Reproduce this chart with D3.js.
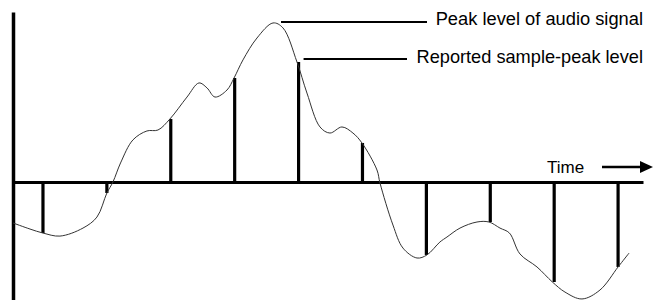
<!DOCTYPE html>
<html>
<head>
<meta charset="utf-8">
<script src="https://cdn.jsdelivr.net/npm/d3@7"></script>
<style>
  html, body { margin: 0; padding: 0; background: #fff; }
  svg { display: block; }
</style>
</head>
<body>
<svg id="chart" width="654" height="300"></svg>
<script>
// ---- Data (time in sample periods, level in relative amplitude) ----
const sampleTime  = [0, 1, 2, 3, 4, 5, 6, 7, 8, 9];
const sampleLevel = [-0.319, -0.069, 0.394, 0.65, 0.75, 0.244, -0.456, -0.25, -0.625, -0.531];

// continuous analog signal
const signalTime  = [-0.469, -0.203, 0, 0.266, 0.626, 0.845, 1.0, 1.095, 1.214, 1.408, 1.627, 1.800, 1.987,
                     2.254, 2.441, 2.567, 2.692, 2.880, 2.990, 3.130, 3.349, 3.600, 3.756, 3.975, 4.131, 4.335,
                     4.491, 4.679, 4.851, 4.992, 5.227, 5.274, 5.477, 5.634, 5.853, 6.009, 6.212, 6.322, 6.526,
                     6.792, 6.979, 7.152, 7.300, 7.465, 7.731, 7.972, 8.169, 8.435, 8.717, 9.0, 9.172];
const signalLevel = [-0.256, -0.294, -0.319, -0.338, -0.288, -0.219, -0.069, 0.0, 0.119, 0.263, 0.319, 0.325, 0.394,
                     0.531, 0.619, 0.588, 0.531, 0.575, 0.65, 0.763, 0.9, 0.994, 0.963, 0.75, 0.556, 0.344,
                     0.306, 0.344, 0.306, 0.244, 0.075, -0.006, -0.269, -0.413, -0.475, -0.456, -0.375, -0.344, -0.288,
                     -0.25, -0.25, -0.288, -0.319, -0.45, -0.531, -0.625, -0.688, -0.731, -0.675, -0.531, -0.444];

const labelPeak   = "Peak level of audio signal";
const labelSample = "Reported sample-peak level";
const labelTime   = "Time";

// ---- Scales ----
const svg = d3.select("#chart");
const x = d3.scaleLinear().domain([-0.469, 9.39]).range([13, 643]);
const y = d3.scaleLinear().domain([-1, 1]).range([342, 22]);

// ---- Axes ----
const xAxis = d3.axisBottom(x).ticks(0).tickSize(0).tickSizeOuter(0);
svg.append("g").attr("transform", `translate(0,${y(0)})`).call(xAxis)
  .call(g => g.select(".domain").attr("stroke", "#000").attr("stroke-width", 3));

const yAxis = d3.axisLeft(d3.scaleLinear().domain([-1, 1]).range([300, 12])).ticks(0).tickSize(0).tickSizeOuter(0);
svg.append("g").attr("transform", `translate(${x(-0.469)},0)`).call(yAxis)
  .call(g => g.select(".domain").attr("stroke", "#000").attr("stroke-width", 3.5));

// ---- Sample bars ----
svg.append("g").selectAll("line").data(sampleTime).join("line")
  .attr("x1", d => x(d)).attr("x2", d => x(d))
  .attr("y1", y(0)).attr("y2", (d, i) => y(sampleLevel[i]))
  .attr("stroke", "#000").attr("stroke-width", 3.2);

// ---- Signal curve ----
const line = d3.line()
  .x((d, i) => x(signalTime[i]))
  .y((d, i) => y(signalLevel[i]))
  .curve(d3.curveCatmullRom.alpha(0.5));
svg.append("path").datum(signalTime).attr("d", line)
  .attr("fill", "none").attr("stroke", "#333").attr("stroke-width", 1);

// ---- Annotations ----
const font = "'Liberation Sans', Arial, Helvetica, sans-serif";
const peakIdx = d3.maxIndex(signalLevel);
const maxSampleIdx = d3.maxIndex(sampleLevel);

svg.append("line")
  .attr("x1", x(signalTime[peakIdx]) + 8).attr("x2", 427)
  .attr("y1", y(signalLevel[peakIdx]) - 1).attr("y2", y(signalLevel[peakIdx]) - 1)
  .attr("stroke", "#000").attr("stroke-width", 2);
svg.append("text").attr("x", 643).attr("y", 25).attr("text-anchor", "end")
  .attr("font-family", font).attr("font-size", 18.3).text(labelPeak);

svg.append("line")
  .attr("x1", x(sampleTime[maxSampleIdx]) + 5).attr("x2", 407)
  .attr("y1", y(sampleLevel[maxSampleIdx]) - 3).attr("y2", y(sampleLevel[maxSampleIdx]) - 3)
  .attr("stroke", "#000").attr("stroke-width", 2);
svg.append("text").attr("x", 643).attr("y", 63).attr("text-anchor", "end")
  .attr("font-family", font).attr("font-size", 18.2).text(labelSample);

// ---- Time arrow ----
svg.append("text").attr("x", 547).attr("y", 173)
  .attr("font-family", font).attr("font-size", 17).text(labelTime);
svg.append("line").attr("x1", 602).attr("x2", 643).attr("y1", 167).attr("y2", 167)
  .attr("stroke", "#000").attr("stroke-width", 2.5);
svg.append("path")
  .attr("d", d3.line()([[640, 161], [653, 167], [640, 173]]) + "Z")
  .attr("fill", "#000");
</script>
</body>
</html>
